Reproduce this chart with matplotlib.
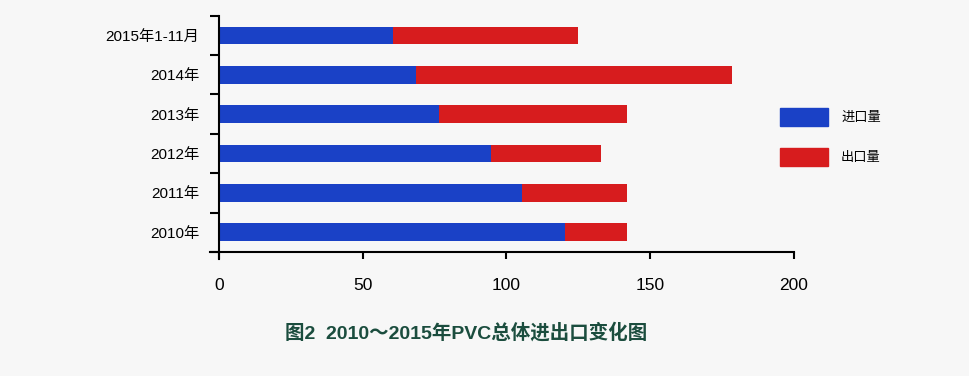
import matplotlib.pyplot as plt
from matplotlib.patches import Rectangle

years = ["2010年", "2011年", "2012年", "2013年", "2014年", "2015年1-11月"]
imports = [120.3, 105.3, 94.6, 76.5, 68.5, 60.5]
exports = [21.6, 36.6, 38.3, 65.4, 109.9, 64.4]
xticks = [0, 50, 100, 150, 200]

bg = "#f7f7f7"
blue = "#1a41c6"
red = "#d71c1e"

plt.rcParams['font.family'] = ['Liberation Sans', 'Noto Sans CJK SC', 'DejaVu Sans']

fig = plt.figure(figsize=(9.7, 3.76), dpi=100, facecolor=bg)
# axes box: x 210..794 px, y 15.7..259 px from top
ax = fig.add_axes([210/970, 1-259/376, (794-210)/970, (259-15.7)/376])
ax.set_facecolor(bg)

pos = list(range(len(years)))
ax.barh(pos, imports, height=0.45, color=blue)
ax.barh(pos, exports, left=imports, height=0.45, color=red)

ax.set_xlim(-3.1, 200)
ax.set_ylim(-0.68, 5.5)

for s in ['top', 'right']:
    ax.spines[s].set_visible(False)
ax.spines['left'].set_position(('data', 0))
ax.spines['bottom'].set_position(('data', -0.5))
ax.spines['left'].set_linewidth(1.5)
ax.spines['bottom'].set_linewidth(1.5)

ax.set_xticks(xticks)
ax.set_xticklabels([str(t) for t in xticks], fontsize=12.5)
ax.tick_params(axis='x', direction='out', length=5, width=1.5, pad=14)

ax.set_yticks([p - 0.5 for p in pos] + [5.5])
ax.set_yticklabels([])
ax.tick_params(axis='y', which='major', direction='out', length=6.5, width=1.5)
ax.set_yticks(pos, minor=True)
ax.set_yticklabels(years, minor=True, fontsize=11)
ax.tick_params(axis='y', which='minor', length=0, pad=14)

# legend
fig.patches.append(Rectangle((780/970, 1-125.7/376), 48/970, 17.4/376,
                             transform=fig.transFigure, color=blue))
fig.patches.append(Rectangle((780/970, 1-165.7/376), 48/970, 17.4/376,
                             transform=fig.transFigure, color=red))
fig.text(841/970, 1-117/376, "进口量", fontsize=9.5, va='center', ha='left',
         family=['Noto Sans CJK SC'])
fig.text(841/970, 1-157/376, "出口量", fontsize=9.5, va='center', ha='left',
         family=['Noto Sans CJK SC'])

fig.text(466/970, 1-333/376, "图2  2010～2015年PVC总体进出口变化图", fontsize=14,
         color="#1b4d3e", weight='bold', ha='center', va='center',
         family=['Liberation Sans', 'Noto Sans CJK SC', 'DejaVu Sans'])

fig.savefig("out.png", dpi=100, facecolor=bg)
